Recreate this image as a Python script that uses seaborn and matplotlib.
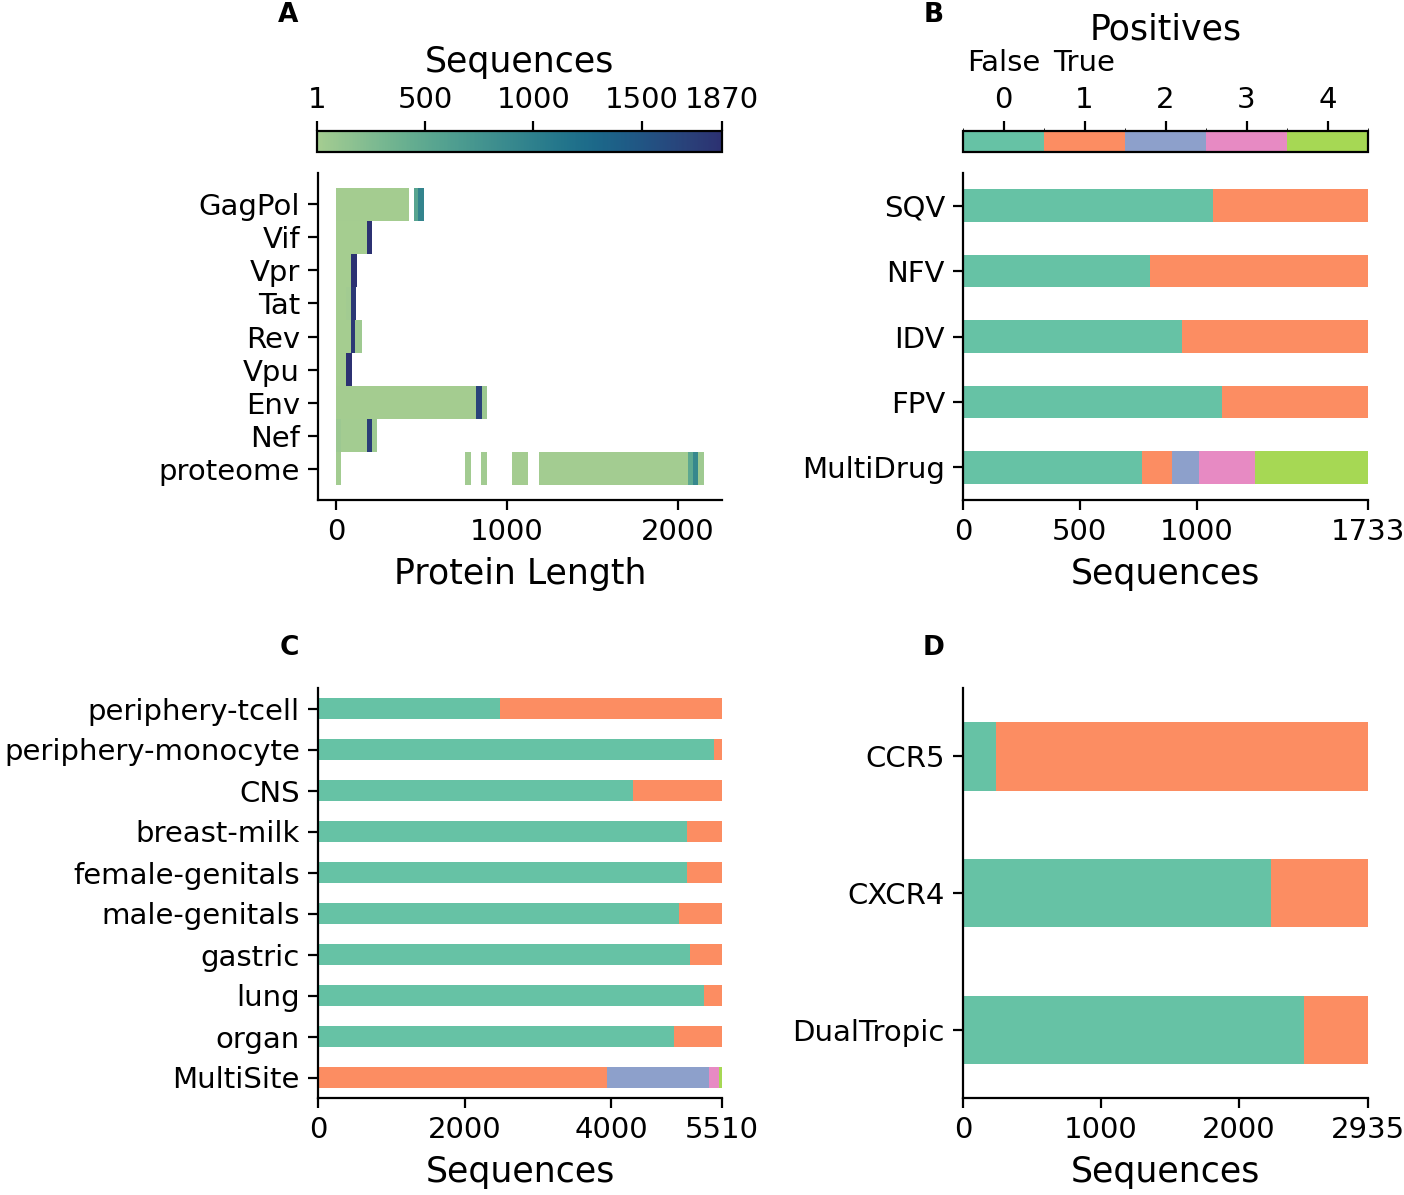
import numpy as np
import pandas as pd
import seaborn as sns
import matplotlib.pyplot as plt
from matplotlib import colors as mcolors
from matplotlib import cm

sns.set_style("ticks")
plt.rcParams['font.family'] = ['DejaVu Sans']
plt.rcParams['text.color'] = 'black'
plt.rcParams['axes.labelcolor'] = 'black'
plt.rcParams['axes.edgecolor'] = 'black'
plt.rcParams['xtick.color'] = 'black'
plt.rcParams['ytick.color'] = 'black'

# ---- Panel A: protein length distribution (start, end, sequences) ----
proteinas = ['GagPol', 'Vif', 'Vpr', 'Tat', 'Rev', 'Vpu', 'Env', 'Nef', 'proteome']
seg_inicio = [
    [0, 454, 481],
    [0, 179],
    [0, 88],
    [0, 60, 88],
    [0, 90, 112],
    [0, 58],
    [0, 817, 852],
    [0, 30, 179, 212],
    [0, 757, 848, 1029, 1185, 2056, 2090, 2119],
]
seg_fim = [
    [425, 481, 515],
    [179, 212],
    [88, 121],
    [60, 88, 115],
    [90, 112, 150],
    [58, 91],
    [817, 852, 881],
    [30, 179, 212, 242],
    [27, 787, 881, 1125, 2056, 2090, 2119, 2150],
]
seg_contagem = [
    [10, 560, 950],
    [8, 1870],
    [6, 1850],
    [3, 30, 1800],
    [5, 1800, 40],
    [5, 1870],
    [15, 1700, 60],
    [60, 20, 1750, 50],
    [20, 30, 30, 15, 20, 500, 900, 40],
]

# ---- Panel B: drug resistance ----
drogas = ['SQV', 'NFV', 'IDV', 'FPV', 'MultiDrug']
drogas_pos = {
    0: [1070, 800, 937, 1108, 765],
    1: [663, 933, 796, 625, 128],
    2: [0, 0, 0, 0, 118],
    3: [0, 0, 0, 0, 237],
    4: [0, 0, 0, 0, 485],
}

# ---- Panel C: tissue ----
tecidos = ['periphery-tcell', 'periphery-monocyte', 'CNS', 'breast-milk', 'female-genitals',
           'male-genitals', 'gastric', 'lung', 'organ', 'MultiSite']
tecidos_pos = {
    0: [2483, 5402, 4297, 5034, 5034, 4925, 5075, 5266, 4857, 0],
    1: [3027, 108, 1213, 476, 476, 585, 435, 244, 653, 3947],
    2: [0, 0, 0, 0, 0, 0, 0, 0, 0, 1391],
    3: [0, 0, 0, 0, 0, 0, 0, 0, 0, 132],
    4: [0, 0, 0, 0, 0, 0, 0, 0, 0, 40],
}

# ---- Panel D: coreceptor ----
receptores = ['CCR5', 'CXCR4', 'DualTropic']
receptores_pos = {
    0: [239, 2232, 2471],
    1: [2696, 703, 464],
}

paleta = sns.color_palette('Set2', 5)
cmap_seq = sns.color_palette('crest', as_cmap=True)
norm_seq = mcolors.Normalize(vmin=1, vmax=1870)

W, H = 1404, 1195
fig = plt.figure(figsize=(W / 100, H / 100), dpi=100)


def eixo(x0, y0, x1, y1):
    return fig.add_axes([x0 / W, 1 - y1 / H, (x1 - x0) / W, (y1 - y0) / H])


TICK = 21
LABEL = 25


def estilo(ax):
    sns.despine(ax=ax)
    for s in ['left', 'bottom']:
        ax.spines[s].set_linewidth(1.6)
    ax.tick_params(labelsize=TICK, length=7, width=1.6, pad=6)


def empilhado(ax, categorias, dados, xmax, xticks):
    df = pd.DataFrame(dados, index=categorias)
    cum = df.cumsum(axis=1)
    for nivel in reversed(list(df.columns)):
        sns.barplot(x=cum[nivel].values, y=categorias, orient='h', color=paleta[nivel],
                    width=0.5, saturation=1, ax=ax, linewidth=0)
    ax.set_xlim(0, xmax)
    ax.set_xticks(xticks)
    ax.set_xlabel('Sequences', fontsize=LABEL, labelpad=8)
    ax.set_ylabel('')
    estilo(ax)


# Panel A
axA = eixo(318, 173, 722, 500)
for i, nome in enumerate(proteinas):
    for a, b, c in zip(seg_inicio[i], seg_fim[i], seg_contagem[i]):
        axA.barh(i, b - a, left=a, height=1.0, color=cmap_seq(norm_seq(c)), linewidth=0)
axA.set_yticks(range(len(proteinas)))
axA.set_yticklabels(proteinas)
axA.set_ylim(len(proteinas) - 0.5 + 0.45, -0.95)
axA.set_xlim(-105, 2257)
axA.set_xticks([0, 1000, 2000])
axA.set_xlabel('Protein Length', fontsize=LABEL, labelpad=8)
estilo(axA)

caxA = eixo(317, 131, 722, 152)
cbA = fig.colorbar(cm.ScalarMappable(norm=norm_seq, cmap=cmap_seq), cax=caxA, orientation='horizontal')
cbA.set_ticks([1, 500, 1000, 1500, 1870])
caxA.xaxis.set_ticks_position('top')
caxA.xaxis.set_label_position('top')
caxA.tick_params(labelsize=TICK, length=7, width=1.6, pad=5)
cbA.set_label('Sequences', fontsize=LABEL, labelpad=10)
cbA.outline.set_linewidth(1.6)

# Panel B
axB = eixo(963, 173, 1368, 500)
empilhado(axB, drogas, drogas_pos, 1733, [0, 500, 1000, 1733])

caxB = eixo(963, 131, 1368, 152)
cmap_pos = mcolors.ListedColormap(paleta)
norm_pos = mcolors.BoundaryNorm(np.arange(-0.5, 5.5, 1), 5)
cbB = fig.colorbar(cm.ScalarMappable(norm=norm_pos, cmap=cmap_pos), cax=caxB, orientation='horizontal')
cbB.set_ticks(range(5))
caxB.xaxis.set_ticks_position('top')
caxB.xaxis.set_label_position('top')
caxB.tick_params(labelsize=TICK, length=7, width=1.6, pad=5)
cbB.set_label('Positives', fontsize=LABEL, labelpad=34)
cbB.outline.set_linewidth(1.6)
for v, txt in [(0, 'False'), (1, 'True')]:
    caxB.text(v, 4.25, txt, transform=caxB.get_xaxis_transform(), ha='center', va='center',
              fontsize=TICK)

# Panel C
axC = eixo(318, 688, 722, 1098)
empilhado(axC, tecidos, tecidos_pos, 5510, [0, 2000, 4000, 5510])

# Panel D
axD = eixo(963, 688, 1368, 1098)
empilhado(axD, receptores, receptores_pos, 2935, [0, 1000, 2000, 2935])

for letra, x, y in [('A', 288, 15), ('B', 934, 15), ('C', 289, 648), ('D', 934, 648)]:
    fig.text(x / W, 1 - y / H, letra, fontsize=19, fontweight='bold', ha='center', va='center')

fig.savefig('out.png', dpi=100)
